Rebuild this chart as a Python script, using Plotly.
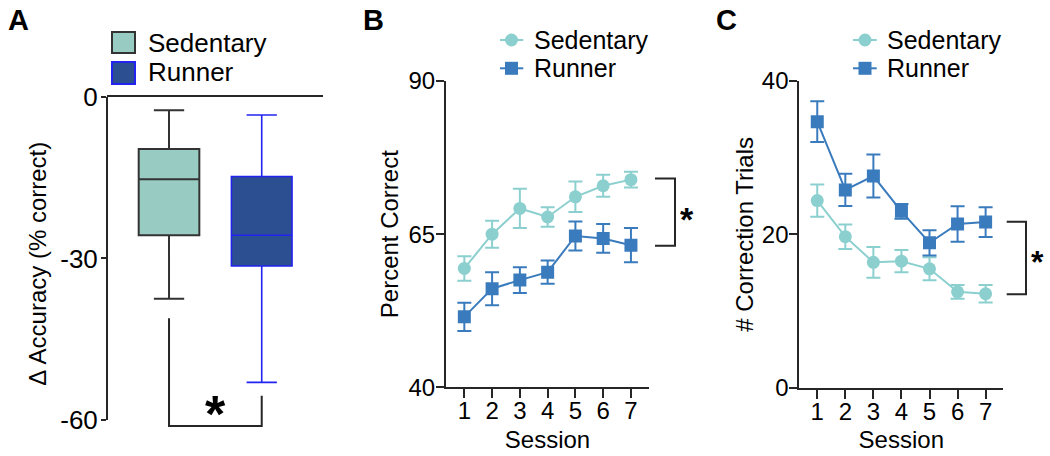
import plotly.graph_objects as go

# ---------------- data ----------------
groups = ["Sedentary", "Runner"]
# Panel A: box statistics of delta accuracy (% correct)
box_pos = [1, 2]
box_q1 = [-25.7, -31.4]
box_median = [-15.3, -25.7]
box_q3 = [-9.7, -14.8]
box_low = [-37.5, -53.0]
box_high = [-2.5, -3.4]

# Panels B and C
sessions = [1, 2, 3, 4, 5, 6, 7]
pc_sed = [59.4, 65.0, 69.2, 67.8, 71.1, 72.9, 73.9]
pc_sed_err = [2.0, 2.2, 3.2, 1.6, 2.5, 1.8, 1.3]
pc_run = [51.5, 56.1, 57.5, 58.8, 64.7, 64.3, 63.2]
pc_run_err = [2.3, 2.7, 2.1, 1.9, 2.35, 2.35, 2.8]

ct_sed = [24.4, 19.7, 16.35, 16.5, 15.5, 12.5, 12.25]
ct_sed_err = [2.1, 1.6, 2.0, 1.45, 1.5, 0.9, 1.15]
ct_run = [34.7, 25.8, 27.6, 23.0, 18.9, 21.35, 21.6]
ct_run_err = [2.65, 2.1, 2.8, 0.95, 1.65, 2.3, 1.95]

a_ticks = [0, -30, -60]
b_ticks = [40, 65, 90]
c_ticks = [0, 20, 40]

# ---------------- style ----------------
W, H = 1050, 456
FONT = "Liberation Sans, Arial, sans-serif"
AX = "#262626"
SED_FILL, SED_EDGE = "#98CCC2", "#333333"
RUN_FILL, RUN_EDGE = "#2C4F91", "#2323F0"
SED_C = "#8CCFCF"
RUN_C = "#3A7BBD"


def px(x):
    return x / W


def py(y):
    return 1 - y / H


fig = go.Figure()

# Panel A boxes
for i, (fill, edge) in enumerate([(SED_FILL, SED_EDGE), (RUN_FILL, RUN_EDGE)]):
    fig.add_trace(go.Box(
        x=[box_pos[i]], q1=[box_q1[i]], median=[box_median[i]], q3=[box_q3[i]],
        lowerfence=[box_low[i]], upperfence=[box_high[i]],
        name=groups[i], width=0.654, whiskerwidth=0.5, boxpoints=False,
        fillcolor=fill, line=dict(color=edge, width=2 if i == 0 else 1.6),
        xaxis="x", yaxis="y", showlegend=False, hoverinfo="skip"))

# Panels B and C lines
for xa, ya, sed, sed_e, run, run_e in [("x2", "y2", pc_sed, pc_sed_err, pc_run, pc_run_err),
                                        ("x3", "y3", ct_sed, ct_sed_err, ct_run, ct_run_err)]:
    fig.add_trace(go.Scatter(
        x=sessions, y=sed, mode="lines+markers", name=groups[0],
        line=dict(color=SED_C, width=2), marker=dict(symbol="circle", size=13, color=SED_C),
        error_y=dict(type="data", array=sed_e, color=SED_C, thickness=2, width=7),
        xaxis=xa, yaxis=ya, showlegend=False))
    fig.add_trace(go.Scatter(
        x=sessions, y=run, mode="lines+markers", name=groups[1],
        line=dict(color=RUN_C, width=2), marker=dict(symbol="square", size=13, color=RUN_C),
        error_y=dict(type="data", array=run_e, color=RUN_C, thickness=2, width=7),
        xaxis=xa, yaxis=ya, showlegend=False))

tickfont = dict(family=FONT, size=24, color="#000")
titlefont = dict(family=FONT, size=24, color="#000")

common = dict(showgrid=False, zeroline=False, automargin=False)
xcommon = dict(ticks="outside", ticklen=9, tickwidth=2, tickcolor=AX, showline=True,
               linecolor=AX, linewidth=2, tickfont=tickfont, ticklabelstandoff=-8, **common)
ycommon = dict(ticks="outside", ticklen=8, tickwidth=2, tickcolor=AX, showline=True,
               linecolor=AX, linewidth=2, tickfont=tickfont, ticklabelstandoff=-4, **common)

fig.update_layout(
    template="none",
    width=W, height=H, margin=dict(l=0, r=0, t=0, b=0, pad=0), autosize=False,
    paper_bgcolor="white", plot_bgcolor="white",
    boxmode="overlay", showlegend=False,
    font=dict(family=FONT, color="#000"),
    # Panel A
    xaxis=dict(domain=[px(107), px(323)], range=[0.331, 2.661], anchor="y", side="top",
               showline=True, linecolor=AX, linewidth=2, showticklabels=False,
               ticks="", **common),
    yaxis=dict(domain=[py(430.9), py(96.7)], range=[-62, 0], anchor="x",
               tickvals=a_ticks, ticktext=[str(v) for v in a_ticks], ticks="outside",
               ticklen=5, tickwidth=2, tickcolor=AX, showline=False, ticklabelstandoff=-2,
               tickfont=dict(family=FONT, size=26, color="#000"),
               title=dict(text="Δ Accuracy (% correct)", font=dict(family=FONT, size=24, color="#000"),
                          standoff=6), **common),
    # Panel B
    xaxis2=dict(domain=[px(446), px(649)], range=[0.34, 7.65], anchor="y2", tickvals=sessions,
                title=dict(text="Session", font=titlefont, standoff=8), **xcommon),
    yaxis2=dict(domain=[py(387.3), py(81)], range=[40, 90], anchor="x2", tickvals=b_ticks,
                title=dict(text="Percent Correct", font=titlefont, standoff=3), **ycommon),
    # Panel C
    xaxis3=dict(domain=[px(799.3), px(1003.3)], range=[0.36, 7.63], anchor="y3", tickvals=sessions,
                title=dict(text="Session", font=titlefont, standoff=8), **xcommon),
    yaxis3=dict(domain=[py(387.7), py(81)], range=[0, 40], anchor="x3", tickvals=c_ticks,
                title=dict(text="# Correction Trials", font=titlefont, standoff=1), **ycommon),
)

shapes = []
# Panel A y-axis line (0 to -60)
shapes.append(dict(type="line", xref="x domain", yref="y", x0=0, x1=0, y0=0, y1=-60,
                   line=dict(color=AX, width=2)))
# Panel A significance bracket
shapes.append(dict(type="path", xref="x", yref="y",
                   path="M 1,-41.1 L 1,-61.1 L 2,-61.1 L 2,-55.5",
                   line=dict(color=AX, width=2)))
# Panel B bracket
shapes.append(dict(type="path", xref="paper", yref="y2",
                   path=f"M {px(655)},74.1 L {px(675)},74.1 L {px(675)},63.1 L {px(655)},63.1",
                   line=dict(color=AX, width=2)))
# Panel C bracket
shapes.append(dict(type="path", xref="paper", yref="y3",
                   path=f"M {px(1006.7)},21.65 L {px(1026)},21.65 L {px(1026)},12.2 L {px(1006.7)},12.2",
                   line=dict(color=AX, width=2)))

# Manual legends
# A: squares
shapes.append(dict(type="rect", xref="paper", yref="paper", x0=px(112), x1=px(135), y0=py(53), y1=py(32),
                   fillcolor=SED_FILL, line=dict(color=SED_EDGE, width=2)))
shapes.append(dict(type="rect", xref="paper", yref="paper", x0=px(112), x1=px(135), y0=py(84), y1=py(62),
                   fillcolor=RUN_FILL, line=dict(color=RUN_EDGE, width=2)))
# B and C: line + marker
for lx0, lx1, mx in [(500, 523.3, 511.5), (853, 876.7, 865)]:
    for yy, col, kind in [(40, SED_C, "circle"), (68.3, RUN_C, "rect")]:
        shapes.append(dict(type="line", xref="paper", yref="paper", x0=px(lx0), x1=px(lx1),
                           y0=py(yy), y1=py(yy), line=dict(color=col, width=2)))
        shapes.append(dict(type=kind, xref="paper", yref="paper", x0=px(mx - 6.5), x1=px(mx + 6.5),
                           y0=py(yy + 6.5), y1=py(yy - 6.5), fillcolor=col, line=dict(color=col, width=0)))

annotations = []
for x, y, txt, size in [(146, 43, "Sedentary", 26), (146, 72, "Runner", 26),
                        (532, 40, "Sedentary", 25), (532, 68.3, "Runner", 25),
                        (885, 40, "Sedentary", 25), (885, 68, "Runner", 25)]:
    annotations.append(dict(x=px(x), y=py(y), xref="paper", yref="paper", text=txt, showarrow=False,
                            xanchor="left", yanchor="middle", font=dict(family=FONT, size=size, color="#000")))
# Panel letters
for x, t in [(6, "A"), (361, "B"), (714, "C")]:
    annotations.append(dict(x=px(x), y=py(20), xref="paper", yref="paper", text=f"<b>{t}</b>",
                            showarrow=False, xanchor="left", yanchor="middle",
                            font=dict(family=FONT, size=29, color="#000")))
# Asterisks
annotations.append(dict(x=1.5, y=-57.6, xref="x", yref="y", text="<b>*</b>", showarrow=False,
                        xanchor="center", yanchor="middle", yshift=-7,
                        font=dict(family=FONT, size=52, color="#000")))
annotations.append(dict(x=px(686.7), y=68.5, xref="paper", yref="y2", text="<b>*</b>", showarrow=False,
                        xanchor="center", yanchor="middle", yshift=-6,
                        font=dict(family=FONT, size=34, color="#000")))
annotations.append(dict(x=px(1037.5), y=17.2, xref="paper", yref="y3", text="<b>*</b>", showarrow=False,
                        xanchor="center", yanchor="middle", yshift=-6,
                        font=dict(family=FONT, size=32, color="#000")))

fig.update_layout(shapes=shapes, annotations=annotations)
fig.write_html("out.html", config={"displayModeBar": False},
               post_script="document.body.style.margin='0';")
